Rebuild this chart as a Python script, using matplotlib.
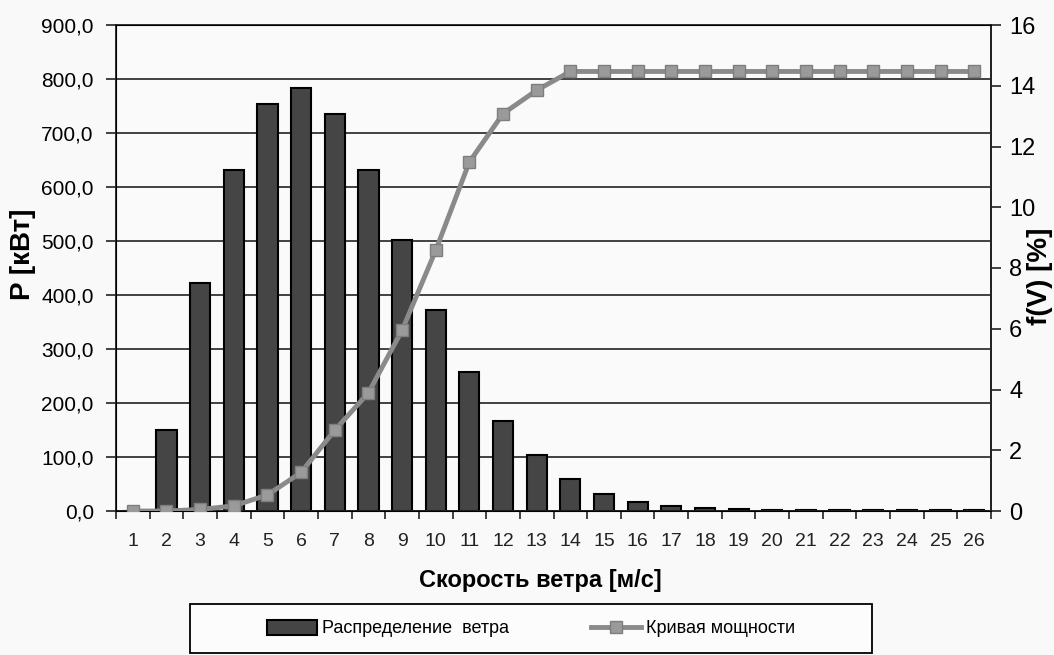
import matplotlib
matplotlib.use("Agg")
import matplotlib.pyplot as plt
from matplotlib.lines import Line2D
from matplotlib.patches import Patch, Rectangle

# ---- data ----
speeds = [str(v) for v in range(1, 27)]
wind_distribution = [0, 150, 422, 631, 754, 783, 735, 631, 502, 372, 258, 167, 103,
                     59, 32, 17, 9, 5, 3, 2, 2, 2, 2, 2, 2, 2]
power_curve = [0.0, 0.0, 0.05, 0.17, 0.53, 1.27, 2.66, 3.89, 5.95, 8.58, 11.49, 13.08,
               13.85, 14.47, 14.47, 14.47, 14.47, 14.47, 14.47, 14.47, 14.47, 14.47,
               14.47, 14.47, 14.47, 14.47]
left_ticks = [0, 100, 200, 300, 400, 500, 600, 700, 800, 900]
right_ticks = [0, 2, 4, 6, 8, 10, 12, 14, 16]

plt.rcParams['font.family'] = ['Liberation Sans', 'DejaVu Sans']

W, H = 1054, 655
fig = plt.figure(figsize=(W / 100, H / 100), dpi=100, facecolor='#f9f9f9')
ax = fig.add_axes([116 / W, 1 - 511 / H, (991 - 116) / W, (511 - 25) / H])
ax.set_facecolor('#fafafa')

x = list(range(len(speeds)))
ax.bar(x, wind_distribution, width=0.6, color='#454545', edgecolor='black',
       linewidth=1.5, zorder=2)
ax.set_xlim(-0.5, len(speeds) - 0.5)
ax.set_ylim(0, 900)
ax.set_yticks(left_ticks)
ax.set_yticklabels([f"{v:.1f}".replace('.', ',') for v in left_ticks], fontsize=15)
ax.yaxis.grid(True, color='#333333', linewidth=1.3, zorder=0)
ax.set_axisbelow(True)
ax.set_xticks(x)
ax.set_xticklabels(speeds, fontsize=14, color='#222222')
ax.set_xticks([i + 0.5 for i in range(-1, len(speeds))], minor=True)
ax.tick_params(axis='x', which='major', length=0, pad=16)
ax.tick_params(axis='x', which='minor', length=6, width=1.2, color='#222222')
ax.tick_params(axis='y', length=7, width=1.2, color='#222222', pad=9)
for s in ['left', 'bottom', 'top', 'right']:
    ax.spines[s].set_color('#222222')
    ax.spines[s].set_linewidth(1.3)

ax.set_ylabel('P [кВт]', fontsize=20, fontweight='bold')
ax.yaxis.label.set_va('center')
ax.yaxis.set_label_coords((23 - 116) / 875, (511 - 254) / 486)

ax.set_xlabel('Скорость ветра [м/с]', fontsize=17, fontweight='bold')
ax.xaxis.label.set_va('center')
ax.xaxis.set_label_coords((540 - 116) / 875, -(581 - 511) / 486)

ax2 = ax.twinx()
ax2.plot(x, power_curve, color='#8a8a8a', linewidth=3.5, marker='s', markersize=9,
         markerfacecolor='#9a9a9a', markeredgecolor='#7e7e7e', zorder=3)
ax2.set_ylim(0, 16)
ax2.set_yticks(right_ticks)
ax2.set_yticklabels([str(v) for v in right_ticks], fontsize=17)
ax2.tick_params(axis='y', length=7, width=1.2, color='#222222', pad=6)
ax2.spines['right'].set_color('#222222')
ax2.spines['right'].set_linewidth(1.3)
ax2.set_ylabel('f(V) [%]', fontsize=20, fontweight='bold')
ax2.yaxis.label.set_va('center')
ax2.yaxis.set_label_coords((1040 - 116) / 875, (511 - 276) / 486)

# legend box
fig.patches.append(Rectangle((190 / W, 1 - 653 / H), 682 / W, 49 / H,
                             transform=fig.transFigure, facecolor='#fcfcfc',
                             edgecolor='black', linewidth=1.3, zorder=1))
handles = [Patch(facecolor='#454545', edgecolor='black', linewidth=1.5),
           Line2D([0], [0], color='#8a8a8a', linewidth=3.5, marker='s', markersize=9,
                  markerfacecolor='#9a9a9a', markeredgecolor='#7e7e7e')]
leg = fig.legend(handles, ['Распределение  ветра', 'Кривая мощности'],
                 loc='center', bbox_to_anchor=(531 / W, 1 - 628.5 / H), ncol=2,
                 frameon=False, prop={'size': 13}, columnspacing=4.5,
                 handlelength=2.8, handleheight=0.9, handletextpad=0.28,
                 borderpad=0, borderaxespad=0)
leg.set_zorder(2)

fig.savefig('out.png', dpi=100, facecolor=fig.get_facecolor())
